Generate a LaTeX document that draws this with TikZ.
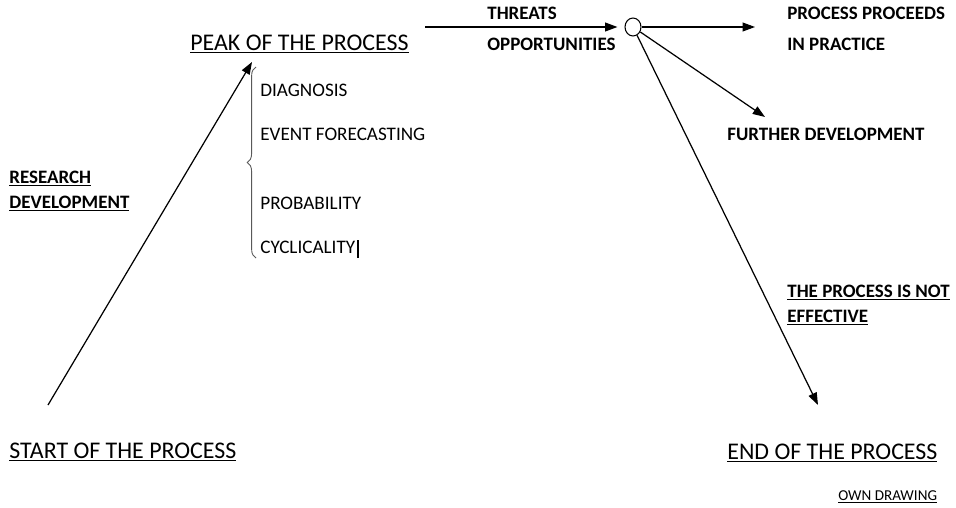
\documentclass[tikz,border=0pt]{standalone}
\usepackage{fontspec}
\setmainfont{Carlito}
\usetikzlibrary{arrows.meta,shapes.geometric,decorations.pathreplacing}

\tikzset{
  big/.style={anchor=base west,inner sep=0pt,font=\fontsize{13.6}{15}\selectfont},
  tag/.style={anchor=base west,inner sep=0pt,font=\bfseries\fontsize{10.8}{12}\selectfont},
  item/.style={anchor=base west,inner sep=0pt,font=\fontsize{10.9}{12}\selectfont},
  flow/.style={-{Triangle[length=7pt,width=5pt]},line width=0.7pt}
}

\begin{document}
\begin{tikzpicture}[x=0.02cm,y=-0.02cm]
\useasboundingbox (0,0) rectangle (956,507);

\node[big] (start) at (9,458) {\underline{START OF THE PROCESS}};
\node[big] (peak) at (190,50) {\underline{PEAK OF THE PROCESS}};
\node[big] (end) at (727,459) {\underline{END OF THE PROCESS}};

\node[tag] (res) at (9,183) {\underline{RESEARCH}};
\node[tag] (dev) at (9,208) {\underline{DEVELOPMENT}};

\node[item] (diag) at (260,96) {DIAGNOSIS};
\node[item] (fore) at (260,140) {EVENT FORECASTING};
\node[item] (prob) at (260,209) {PROBABILITY};
\node[item] (cyc) at (260,253) {CYCLICALITY};
\draw[line width=0.9pt] (358,240) -- (358,258);
\draw[gray!70!black,line width=0.5pt,decorate,decoration={brace,amplitude=5pt}]
  (256,258) -- (256,67);

\node[tag] (thr) at (487,19) {THREATS};
\node[tag] (opp) at (487,51) {OPPORTUNITIES};
\node[tag] (pp1) at (787,19) {PROCESS PROCEEDS};
\node[tag] (pp2) at (787,51) {IN PRACTICE};
\node[tag] (fur) at (727,140) {FURTHER DEVELOPMENT};
\node[tag] (ne1) at (787,297) {\underline{THE PROCESS IS NOT}};
\node[tag] (ne2) at (787,322) {\underline{EFFECTIVE}};
\node[item,font=\fontsize{8.6}{10}\selectfont] (own) at (838,500) {\underline{OWN DRAWING}};

\node[draw,ellipse,line width=0.6pt,inner sep=0pt,
  minimum width=0.32cm,minimum height=0.36cm] (hub) at (633,27) {};

\coordinate (s0) at (48,405);
\coordinate (s1) at (252,62);
\coordinate (t0) at (425,27);
\coordinate (h1) at (755,27);
\coordinate (h2) at (765,117);
\coordinate (h3) at (818,405);

\draw[flow] (s0) -- (s1);
\draw[flow,shorten >=4pt] (t0) -- (t0 -| hub.west);
\draw[flow] (hub.east) -- (h1);
\draw[flow] (hub) -- (h2);
\draw[flow] (hub) -- (h3);
\end{tikzpicture}
\end{document}
